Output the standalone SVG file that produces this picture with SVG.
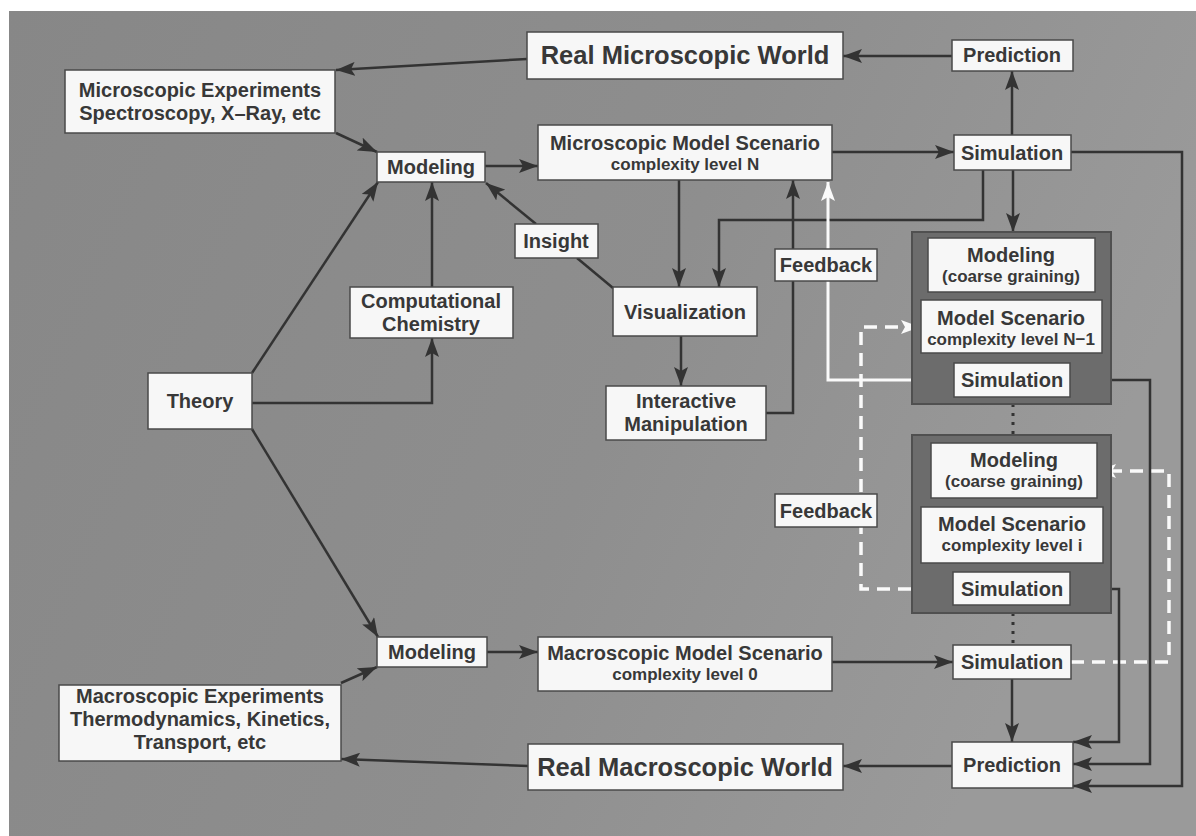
<svg xmlns="http://www.w3.org/2000/svg" width="1196" height="836" viewBox="0 0 1196 836">
<defs>
<linearGradient id="bg" x1="0" y1="0" x2="1" y2="0.3">
<stop offset="0" stop-color="#878787"/>
<stop offset="0.6" stop-color="#8e8e8e"/>
<stop offset="1" stop-color="#9a9a9a"/>
</linearGradient>
<marker id="ah" markerUnits="userSpaceOnUse" markerWidth="20" markerHeight="14" refX="19" refY="7" orient="auto">
<path d="M0,0 L19,7 L0,14 L4,7 z" fill="#333"/>
</marker>
<marker id="ahw" markerUnits="userSpaceOnUse" markerWidth="20" markerHeight="14" refX="19" refY="7" orient="auto">
<path d="M0,0 L19,7 L0,14 L4,7 z" fill="#fafafa"/>
</marker>
</defs>
<style>
.box{fill:#f7f7f7;stroke:#4a4a4a;stroke-width:1.5}
.panel{fill:#6c6c6c;stroke:#505050;stroke-width:2}
text{font-family:"Liberation Sans",Arial,Helvetica,sans-serif;font-weight:bold;fill:#383838;text-anchor:middle}
.t20{font-size:20px}
.t17{font-size:17px}
.t25{font-size:25.5px}
.c{fill:none;stroke:#333;stroke-width:2.5}
.a{marker-end:url(#ah)}
.w{fill:none;stroke:#fafafa;stroke-width:3;marker-end:url(#ahw)}
.wd{fill:none;stroke:#fafafa;stroke-width:3.5;stroke-dasharray:13,8;marker-end:url(#ahw)}
.dot{fill:none;stroke:#333;stroke-width:3;stroke-dasharray:3,6}
</style>
<rect x="0" y="0" width="1196" height="836" fill="#ffffff"/>
<rect x="9" y="11" width="1187" height="825" fill="url(#bg)"/>

<g id="connectors">
<path class="c a" d="M952,56 L843,56"/>
<path class="c a" d="M527,59 L336,70"/>
<path class="c a" d="M336,133 L377,152"/>
<path class="c a" d="M485,166 L538,166"/>
<path class="c a" d="M832,152 L954,152"/>
<path class="c a" d="M1012,135 L1012,71"/>
<path class="c a" d="M1013,170 L1013,232"/>
<path class="c a" d="M983,170 L983,220 L719,220 L719,287"/>
<path class="c a" d="M679,180 L679,287"/>
<path class="c a" d="M252,373 L378,182"/>
<path class="c a" d="M252,403 L432,403 L432,338"/>
<path class="c a" d="M432,287 L432,182"/>
<path class="c" d="M613,288 L577,258"/>
<path class="c a" d="M536,224 L486,183"/>
<path class="c a" d="M681,336 L681,386"/>
<path class="c a" d="M766,413 L793,413 L793,180"/>
<path class="w" d="M912,380 L828,380 L828,182"/>
<path class="wd" d="M953,589 L861,589 L861,327 L920,327"/>
<path class="wd" d="M1071,662 L1169,662 L1169,471 L1097,471"/>
<path class="dot" d="M1013,404 L1013,435"/>
<path class="dot" d="M1013,613 L1013,645"/>
<path class="c a" d="M832,662 L953,662"/>
<path class="c a" d="M1012,679 L1012,742"/>
<path class="c a" d="M952,766 L843,766"/>
<path class="c a" d="M528,766 L341,759"/>
<path class="c a" d="M341,683 L377,667"/>
<path class="c a" d="M252,429 L378,637"/>
<path class="c a" d="M487,652 L538,652"/>
<path class="c a" d="M1070,589 L1119,589 L1119,742 L1073,742"/>
<path class="c a" d="M1070,380 L1150,380 L1150,764 L1073,764"/>
<path class="c a" d="M1071,152 L1182,152 L1182,786 L1073,786"/>
</g>

<g id="real-micro-world"><rect class="box" x="527" y="32" width="316" height="47"/><text class="t25" x="685" y="64">Real Microscopic World</text></g>
<g id="prediction-top"><rect class="box" x="952" y="40" width="121" height="31"/><text class="t20" x="1012" y="62">Prediction</text></g>
<g id="micro-experiments"><rect class="box" x="65" y="70" width="270" height="63"/><text class="t20" x="200" y="97">Microscopic Experiments</text><text class="t20" x="200" y="120">Spectroscopy, X–Ray, etc</text></g>
<g id="modeling-top"><rect class="box" x="377" y="152" width="108" height="30"/><text class="t20" x="431" y="174">Modeling</text></g>
<g id="micro-model-scenario"><rect class="box" x="538" y="125" width="294" height="55"/><text class="t20" x="685" y="150">Microscopic Model Scenario</text><text class="t17" x="685" y="170">complexity level N</text></g>
<g id="simulation-top"><rect class="box" x="954" y="135" width="117" height="35"/><text class="t20" x="1012" y="160">Simulation</text></g>
<g id="insight"><rect class="box" x="515" y="224" width="83" height="34"/><text class="t20" x="556" y="248">Insight</text></g>
<g id="comp-chem"><rect class="box" x="350" y="287" width="163" height="51"/><text class="t20" x="431" y="308">Computational</text><text class="t20" x="431" y="331">Chemistry</text></g>
<g id="visualization"><rect class="box" x="613" y="287" width="144" height="49"/><text class="t20" x="685" y="319">Visualization</text></g>
<g id="feedback-upper"><rect class="box" x="775" y="249" width="102" height="32"/><text class="t20" x="826" y="272">Feedback</text></g>
<g id="theory"><rect class="box" x="148" y="373" width="104" height="56"/><text class="t20" x="200" y="408">Theory</text></g>
<g id="interactive-manipulation"><rect class="box" x="606" y="386" width="160" height="54"/><text class="t20" x="686" y="408">Interactive</text><text class="t20" x="686" y="431">Manipulation</text></g>

<g id="panel-n-1">
<rect class="panel" x="912" y="232" width="199" height="172"/>
<rect class="box" x="928" y="238" width="167" height="54"/><text class="t20" x="1011" y="262">Modeling</text><text class="t17" x="1011" y="282">(coarse graining)</text>
<rect class="box" x="921" y="300" width="181" height="53"/><text class="t20" x="1011" y="325">Model Scenario</text><text class="t17" x="1011" y="345">complexity level N−1</text>
<rect class="box" x="954" y="363" width="116" height="34"/><text class="t20" x="1012" y="387">Simulation</text>
</g>

<g id="feedback-lower"><rect class="box" x="775" y="494" width="102" height="33"/><text class="t20" x="826" y="518">Feedback</text></g>

<g id="panel-i">
<rect class="panel" x="912" y="435" width="199" height="178"/>
<rect class="box" x="931" y="443" width="166" height="55"/><text class="t20" x="1014" y="467">Modeling</text><text class="t17" x="1014" y="487">(coarse graining)</text>
<rect class="box" x="921" y="507" width="182" height="56"/><text class="t20" x="1012" y="531">Model Scenario</text><text class="t17" x="1012" y="551">complexity level i</text>
<rect class="box" x="953" y="572" width="117" height="33"/><text class="t20" x="1012" y="596">Simulation</text>
</g>

<g id="modeling-bottom"><rect class="box" x="377" y="637" width="110" height="30"/><text class="t20" x="432" y="659">Modeling</text></g>
<g id="macro-model-scenario"><rect class="box" x="538" y="637" width="294" height="54"/><text class="t20" x="685" y="660">Macroscopic Model Scenario</text><text class="t17" x="685" y="680">complexity level 0</text></g>
<g id="simulation-bottom"><rect class="box" x="953" y="645" width="118" height="34"/><text class="t20" x="1012" y="669">Simulation</text></g>
<g id="macro-experiments"><rect class="box" x="59" y="685" width="282" height="76"/><text class="t20" x="200" y="703">Macroscopic Experiments</text><text class="t20" x="200" y="726">Thermodynamics, Kinetics,</text><text class="t20" x="200" y="749">Transport, etc</text></g>
<g id="real-macro-world"><rect class="box" x="528" y="744" width="315" height="46"/><text class="t25" x="685" y="776">Real Macroscopic World</text></g>
<g id="prediction-bottom"><rect class="box" x="952" y="742" width="121" height="46"/><text class="t20" x="1012" y="772">Prediction</text></g>
</svg>
